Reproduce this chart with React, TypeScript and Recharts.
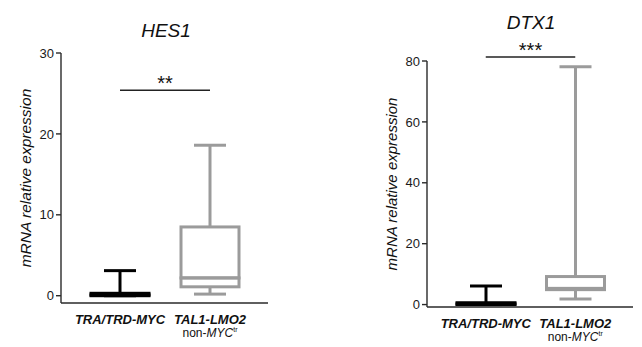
import { ComposedChart, Bar, XAxis, YAxis, ReferenceLine } from "recharts";

// groups on the x axis (same for both panels)
const GROUPS = ["TRA/TRD-MYC", "TAL1-LMO2"];
const GROUP_NOTES = [null, { prefix: "non-", gene: "MYC", sup: "tr" }];
const COLORS = ["#000000", "#9b9b9b"];

// HES1 box plot values
const HES1_MIN = [0, 0.2];
const HES1_Q1 = [0, 1.1];
const HES1_MEDIAN = [0.1, 2.2];
const HES1_Q3 = [0.3, 8.5];
const HES1_MAX = [3.1, 18.6];
const HES1_TICKS = [0, 10, 20, 30];
const HES1_SIG = 25.4;

// DTX1 box plot values
const DTX1_MIN = [0, 1.8];
const DTX1_Q1 = [0, 4.9];
const DTX1_MEDIAN = [0.2, 5.3];
const DTX1_Q3 = [0.6, 9.2];
const DTX1_MAX = [6.1, 78.1];
const DTX1_TICKS = [0, 20, 40, 60, 80];
const DTX1_SIG = 81.3;

const FONT = "'Liberation Sans', Arial, sans-serif";

const buildRows = (min: number[], q1: number[], med: number[], q3: number[], max: number[]) =>
  GROUPS.map((name, i) => ({
    name,
    base: min[i],
    lowWhisker: q1[i] - min[i],
    lowerBox: med[i] - q1[i],
    upperBox: q3[i] - med[i],
    highWhisker: max[i] - q3[i],
  }));

const makeWhisker = (side: "low" | "high") => (props: any) => {
  const { x, y, width, height, index } = props;
  const cx = x + width / 2;
  const capY = side === "high" ? y : y + height;
  const color = COLORS[index];
  return (
    <g>
      <line x1={cx} x2={cx} y1={y} y2={y + height} stroke={color} strokeWidth={3} />
      <line x1={cx - 16} x2={cx + 16} y1={capY} y2={capY} stroke={color} strokeWidth={3} />
    </g>
  );
};

const BoxShape = (props: any) => {
  const { x, y, width, height, index } = props;
  return (
    <rect x={x} y={y} width={width} height={Math.max(height, 0)} fill="none" stroke={COLORS[index]} strokeWidth={3} />
  );
};

const Empty = () => <g />;

const GroupTick = (props: any) => {
  const { x, y, payload, index } = props;
  const note = GROUP_NOTES[index];
  return (
    <g transform={`translate(${x},${y})`}>
      <text textAnchor="middle" y={20.5} fontSize={13} fontWeight="bold" fontStyle="italic" fill="#111" fontFamily={FONT}>
        {payload.value}
      </text>
      {note && (
        <text textAnchor="middle" y={34} fontSize={12} fill="#111" fontFamily={FONT}>
          {note.prefix}
          <tspan fontStyle="italic">{note.gene}</tspan>
          <tspan fontSize={7} dy={-5}>{note.sup}</tspan>
        </text>
      )}
    </g>
  );
};

interface PanelProps {
  title: string;
  rows: any[];
  ticks: number[];
  domain: [number, number];
  sig: number;
  stars: string;
  width: number;
  left: number;
  top: number;
  right: number;
  yAxisWidth: number;
  xAxisHeight: number;
  labelOffset: number;
  labelSize: number;
  titleX: number;
  titleY: number;
}

function BoxPanel(p: PanelProps) {
  return (
    <div style={{ position: "absolute", left: p.left, top: 0, width: p.width, height: 347 }}>
      <ComposedChart
        width={p.width}
        height={347}
        data={p.rows}
        margin={{ top: p.top, right: p.right, bottom: 0, left: 0 }}
        barSize={58}
      >
        <XAxis
          dataKey="name"
          type="category"
          height={p.xAxisHeight}
          padding={{ left: 14, right: 13 }}
          stroke="#2a2a2a"
          strokeWidth={1.4}
          tickLine={false}
          tickSize={0}
          tickMargin={0}
          tick={GroupTick}
          interval={0}
        />
        <YAxis
          type="number"
          width={p.yAxisWidth}
          domain={p.domain}
          ticks={p.ticks}
          allowDataOverflow
          stroke="#2a2a2a"
          strokeWidth={1.4}
          tickSize={5}
          tick={{ fill: "#1a1a1a", fontSize: 13, fontFamily: FONT }}
          label={{
            value: "mRNA relative expression",
            angle: -90,
            position: "insideLeft",
            offset: p.labelOffset,
            style: { textAnchor: "middle", fontStyle: "italic", fontSize: p.labelSize, fill: "#111", fontFamily: FONT },
          }}
        />
        <Bar dataKey="base" stackId="box" shape={Empty} isAnimationActive={false} />
        <Bar dataKey="lowWhisker" stackId="box" shape={makeWhisker("low")} isAnimationActive={false} />
        <Bar dataKey="lowerBox" stackId="box" shape={BoxShape} isAnimationActive={false} />
        <Bar dataKey="upperBox" stackId="box" shape={BoxShape} isAnimationActive={false} />
        <Bar dataKey="highWhisker" stackId="box" shape={makeWhisker("high")} isAnimationActive={false} />
        <ReferenceLine
          segment={[
            { x: GROUPS[0], y: p.sig },
            { x: GROUPS[1], y: p.sig },
          ]}
          stroke="#222"
          strokeWidth={1.5}
          ifOverflow="visible"
          label={{ value: p.stars, position: "top", offset: 0, fontSize: 20, fill: "#111", fontFamily: FONT }}
        />
      </ComposedChart>
      <svg width={p.width} height={347} style={{ position: "absolute", left: 0, top: 0, pointerEvents: "none" }}>
        <text x={p.titleX} y={p.titleY} textAnchor="middle" fontSize={19} fontStyle="italic" fill="#111" fontFamily={FONT}>
          {p.title}
        </text>
      </svg>
    </div>
  );
}

export default function App() {
  const hesRows = buildRows(HES1_MIN, HES1_Q1, HES1_MEDIAN, HES1_Q3, HES1_MAX);
  const dtxRows = buildRows(DTX1_MIN, DTX1_Q1, DTX1_MEDIAN, DTX1_Q3, DTX1_MAX);
  return (
    <div style={{ position: "absolute", left: 0, top: 0, width: 642, height: 347, background: "#fff" }}>
      <BoxPanel
        title="HES1"
        rows={hesRows}
        ticks={HES1_TICKS}
        domain={[-0.9, 30]}
        sig={HES1_SIG}
        stars="**"
        width={320}
        left={0}
        top={53}
        right={52}
        yAxisWidth={61}
        xAxisHeight={44}
        labelOffset={25}
        labelSize={15.5}
        titleX={166}
        titleY={36.5}
      />
      <BoxPanel
        title="DTX1"
        rows={dtxRows}
        ticks={DTX1_TICKS}
        domain={[-0.8, 80]}
        sig={DTX1_SIG}
        stars="***"
        width={322}
        left={320}
        top={61}
        right={9}
        yAxisWidth={107}
        xAxisHeight={40}
        labelOffset={72}
        labelSize={15}
        titleX={211}
        titleY={28.5}
      />
    </div>
  );
}
